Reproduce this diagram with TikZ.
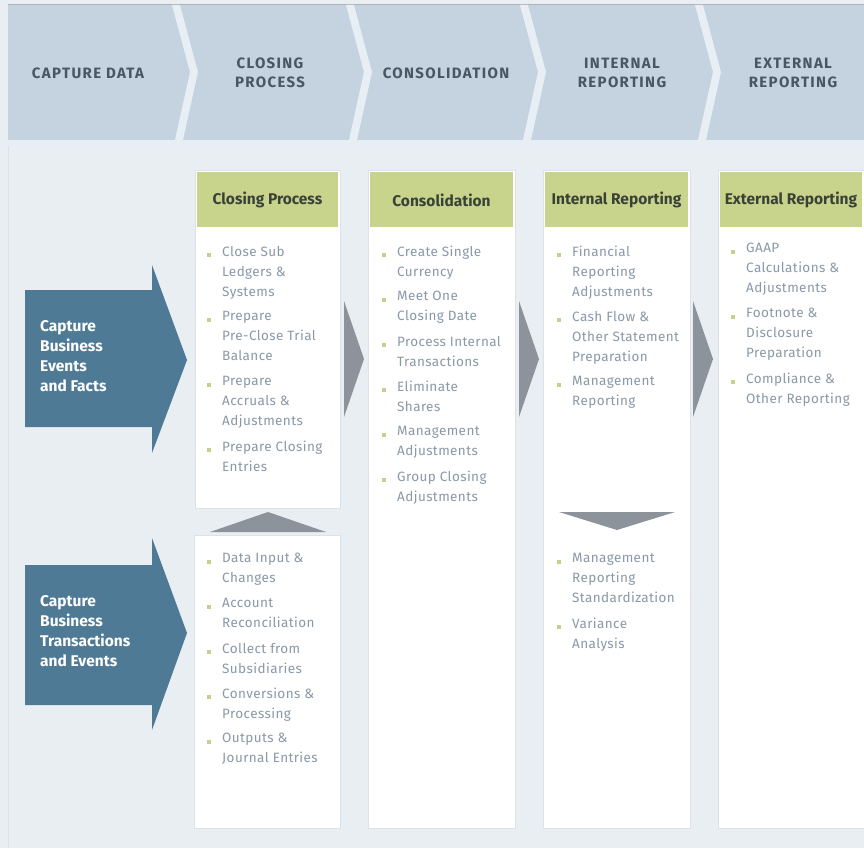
\documentclass[tikz,border=0pt]{standalone}
\usepackage{fontspec}
\newfontfamily\hdrfont[LetterSpace=9]{Fira Sans}
\newfontfamily\grnfont{Fira Sans}
\newfontfamily\bodyfont[LetterSpace=3]{Fira Sans}
\definecolor{bgc}{HTML}{E9EEF3}
\definecolor{bandc}{HTML}{C4D3DF}
\definecolor{sepc}{HTML}{E7EEF4}
\definecolor{hdrtxt}{HTML}{4A5661}
\definecolor{greenc}{HTML}{C8D48C}
\definecolor{greentxt}{HTML}{3A4238}
\definecolor{itemtxt}{HTML}{8A98A8}
\definecolor{bulletc}{HTML}{C6D08C}
\definecolor{bluec}{HTML}{4E7A96}
\definecolor{grayarr}{HTML}{8C939B}
\definecolor{boxline}{HTML}{DCE2E8}
\tikzset{
  hdrlabel/.style={font=\hdrfont\bfseries\fontsize{15}{19}\selectfont, text=hdrtxt, align=center, inner sep=0pt},
  colbox/.style={fill=white, draw=boxline, line width=0.6pt},
  greenbar/.style={fill=greenc, draw=none},
  greenlabel/.style={font=\grnfont\bfseries\fontsize{15.5}{16}\selectfont, text=greentxt, inner sep=0pt},
  item/.style={font=\bodyfont\fontsize{13.5}{20}\selectfont, text=itemtxt, align=left, anchor=north west, inner sep=0pt},
  bul/.style={fill=bulletc, draw=none, minimum size=3.4pt, inner sep=0pt},
  bluearrow/.style={fill=bluec, draw=none},
  bluelabel/.style={font=\grnfont\bfseries\fontsize{15.5}{20}\selectfont, text=white, align=left, anchor=north west, inner sep=0pt},
  grayshape/.style={fill=grayarr, draw=none}
}
\begin{document}
\begin{tikzpicture}[x=1pt,y=-1pt]
\useasboundingbox (0,0) rectangle (864,848);
\fill[bgc] (0,0) rectangle (864,848);
\draw[boxline, line width=1pt] (8,5) -- (8,848);
% header band
\fill[bandc] (8,5) rectangle (864,140);
\draw[gray!60, line width=1pt] (8,5) -- (864,5);
\fill[sepc] (8,140) rectangle (864,146);
% chevron separators
\foreach \x in {172,346,520,695}{
  \fill[sepc] (\x,5) -- (\x+8,5) -- (\x+26,72) -- (\x+11,140) -- (\x+3,140) -- (\x+18,72) -- cycle;
}
\node[hdrlabel] (h1) at (88,73) {CAPTURE DATA};
\node[hdrlabel] (h2) at (270,73) {CLOSING\\PROCESS};
\node[hdrlabel] (h3) at (446,73) {CONSOLIDATION};
\node[hdrlabel] (h4) at (622,73) {INTERNAL\\REPORTING};
\node[hdrlabel] (h5) at (793,73) {EXTERNAL\\REPORTING};
% column boxes
\draw[colbox] (195,170) rectangle (340,508);
\draw[colbox] (194,535) rectangle (340,828);
\draw[colbox] (368,170) rectangle (515,828);
\draw[colbox] (543,170) rectangle (690,828);
\draw[colbox] (718,170) rectangle (870,828);
% green header bars
\fill[greenbar] (197,172) rectangle (338,227);
\fill[greenbar] (370,172) rectangle (513,227);
\fill[greenbar] (545,172) rectangle (688,227);
\fill[greenbar] (720,172) rectangle (862,227);
\node[greenlabel] (g1) at (267.5,200) {Closing Process};
\node[greenlabel] (g2) at (441.5,200) {Consolidation};
\node[greenlabel] (g3) at (616.5,200) {Internal Reporting};
\node[greenlabel] (g4) at (791,200) {External Reporting};
% gray arrows between columns
\fill[grayshape] (344,301) -- (364,359) -- (344,417) -- cycle;
\fill[grayshape] (519,301) -- (539,359) -- (519,417) -- cycle;
\fill[grayshape] (693,301) -- (713,359) -- (693,417) -- cycle;
% up / down triangles
\fill[grayshape] (210,532) -- (268,512) -- (326,532) -- cycle;
\fill[grayshape] (559,512) -- (675,512) -- (617,530) -- cycle;
% blue arrows
\fill[bluearrow] (25,290) -- (152,290) -- (152,265) -- (187,360) -- (152,453) -- (152,427) -- (25,427) -- cycle;
\fill[bluearrow] (25,565) -- (152,565) -- (152,538) -- (187,633) -- (152,730) -- (152,705) -- (25,705) -- cycle;
\node[bluelabel] (b1) at (40,320) {Capture\\Business\\Events\\and Facts};
\node[bluelabel] (b2) at (40,595) {Capture\\Business\\Transactions\\and Events};
% items
\newcommand{\itm}[5]{% name, bulletx, y, textx, text
  \node[bul] (#1b) at (#2,#3+9) {};
  \node[item] (#1) at (#4,#3) {#5};
}
% closing process
\itm{c1}{209}{246}{222}{Close Sub\\Ledgers \&\\Systems}
\itm{c2}{209}{311}{222}{Prepare\\Pre-Close Trial\\Balance}
\itm{c3}{209}{376}{222}{Prepare\\Accruals \&\\Adjustments}
\itm{c4}{209}{441}{222}{Prepare Closing\\Entries}
% lower closing
\itm{l1}{209}{553}{222}{Data Input \&\\Changes}
\itm{l2}{209}{598}{222}{Account\\Reconciliation}
\itm{l3}{209}{643}{222}{Collect from\\Subsidiaries}
\itm{l4}{209}{688}{222}{Conversions \&\\Processing}
\itm{l5}{209}{733}{222}{Outputs \&\\Journal Entries}
% consolidation
\itm{s1}{384}{246}{397}{Create Single\\Currency}
\itm{s2}{384}{291}{397}{Meet One\\Closing Date}
\itm{s3}{384}{336}{397}{Process Internal\\Transactions}
\itm{s4}{384}{381}{397}{Eliminate\\Shares}
\itm{s5}{384}{426}{397}{Management\\Adjustments}
\itm{s6}{384}{471}{397}{Group Closing\\Adjustments}
% internal reporting
\itm{i1}{559}{246}{572}{Financial\\Reporting\\Adjustments}
\itm{i2}{559}{311}{572}{Cash Flow \&\\Other Statement\\Preparation}
\itm{i3}{559}{376}{572}{Management\\Reporting}
\itm{i4}{559}{553}{572}{Management\\Reporting\\Standardization}
\itm{i5}{559}{618}{572}{Variance\\Analysis}
% external reporting
\itm{e1}{733}{243}{746}{GAAP\\Calculations \&\\Adjustments}
\itm{e2}{733}{308}{746}{Footnote \&\\Disclosure\\Preparation}
\itm{e3}{733}{373}{746}{Compliance \&\\Other Reporting}
\end{tikzpicture}
\end{document}
